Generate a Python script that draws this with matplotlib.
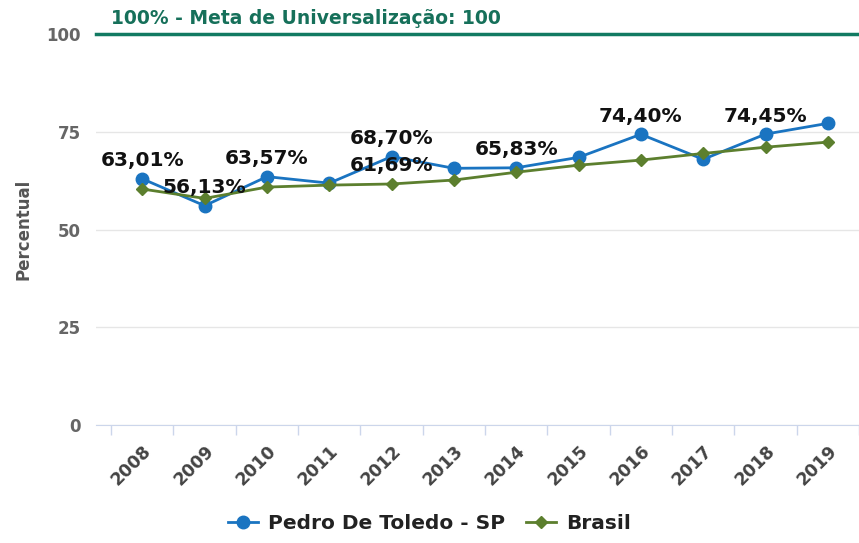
import numpy as np
import matplotlib.pyplot as plt

plt.rcParams["font.family"] = ["DejaVu Sans"]

# data
years = ["2008", "2009", "2010", "2011", "2012", "2013",
         "2014", "2015", "2016", "2017", "2018", "2019"]
pedro = [63.01, 56.13, 63.57, 61.9, 68.70, 65.7,
         65.83, 68.5, 74.40, 68.0, 74.45, 77.2]
brasil = [60.4, 58.0, 60.9, 61.4, 61.69, 62.7,
          64.7, 66.5, 67.8, 69.5, 71.1, 72.4]
# indices that carry a data label
pedro_labels = [0, 1, 2, 4, 6, 8, 10]
brasil_labels = [4]
meta = 100
meta_text = "100% - Meta de Universalização: 100"

blue = "#1a74c1"
green = "#5c7f2e"
teal = "#127a62"

fig = plt.figure(figsize=(8.59, 5.43), dpi=100)
ax = fig.add_axes([0.112, 0.217, 0.888, 0.720])

x = np.arange(len(years))

# grid
for v in [0, 25, 50, 75]:
    ax.axhline(v, color="#e6e6e6", lw=1, zorder=0)

ax.plot(x, pedro, color=blue, lw=2, marker="o", ms=9, zorder=3,
        label="Pedro De Toledo - SP")
ax.plot(x, brasil, color=green, lw=2, marker="D", ms=6.5, zorder=3,
        label="Brasil")

# meta line
ax.axhline(meta, color=teal, lw=2.5, zorder=2, clip_on=False)
ax.text(-0.5, meta + 1.6, meta_text, color="#16705a", fontsize=13.5,
        fontweight="bold", va="bottom", ha="left")

def fmt(v):
    return f"{v:.2f}".replace(".", ",") + "%"

for i in pedro_labels:
    ax.annotate(fmt(pedro[i]), (x[i], pedro[i]), xytext=(0, 13),
                textcoords="offset points", ha="center", va="center",
                fontsize=14.5, fontweight="bold", color="#111111", zorder=4)
for i in brasil_labels:
    ax.annotate(fmt(brasil[i]), (x[i], brasil[i]), xytext=(0, 13),
                textcoords="offset points", ha="center", va="center",
                fontsize=14.5, fontweight="bold", color="#111111", zorder=4)

ax.set_xlim(-0.74, 11.31)
ax.set_ylim(0, 100)
ax.set_yticks([0, 25, 50, 75, 100])
ax.set_yticklabels(["0", "25", "50", "75", "100"], color="#666666",
                   fontsize=12, fontweight="bold")
ax.tick_params(axis="y", length=0, pad=11)

ax.set_xticks(x)
ax.set_xticklabels(years, rotation=45, ha="right", rotation_mode="anchor",
                   fontsize=12.5, fontweight="bold", color="#444444")
ax.set_xticks(np.append(x - 0.5, x[-1] + 0.5), minor=True)
ax.tick_params(axis="x", which="major", length=0, pad=12)
ax.tick_params(axis="x", which="minor", length=7, color="#ccd6eb", width=1)

for s in ["top", "right", "left"]:
    ax.spines[s].set_visible(False)
ax.spines["bottom"].set_color("#ccd6eb")

ax.set_ylabel("Percentual", fontsize=12, fontweight="bold", color="#555555",
              labelpad=10)

fig.legend(loc="lower center", bbox_to_anchor=(0.5, -0.015), ncol=2,
           frameon=False, prop={"size": 14.5, "weight": "bold"},
           handlelength=1.5, handletextpad=0.5, columnspacing=1.0,
           labelcolor="#222222")

fig.savefig("out.png", dpi=100)
